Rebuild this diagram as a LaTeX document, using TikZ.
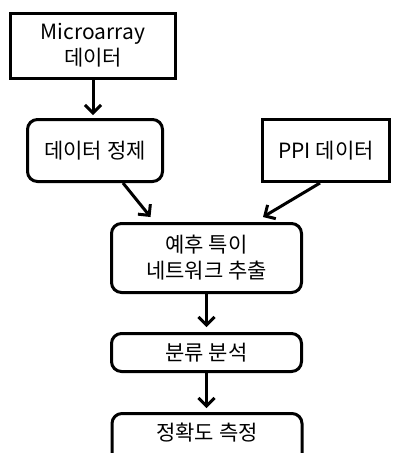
\documentclass[tikz,border=0pt]{standalone}
\usepackage{fontspec}
\setmainfont{Noto Sans CJK KR}
\usetikzlibrary{arrows.meta}
\begin{document}
\begin{tikzpicture}[x=1pt,y=-1pt,
  box/.style={draw=black, line width=3pt, align=center, inner sep=0pt,
    font=\fontsize{21}{26}\selectfont},
  rbox/.style={box, rounded corners=10pt},
  arr/.style={line width=3pt, -{Straight Barb[length=8pt,width=16pt]}}]
\useasboundingbox (0,0) rectangle (392,453);
\node[box, minimum width=165pt, minimum height=65pt] (micro) at (93,45.5) {Microarray\\데이터};
\node[rbox, minimum width=135pt, minimum height=62pt] (clean) at (95,150.5) {데이터 정제};
\node[box, minimum width=127pt, minimum height=62pt] (ppi) at (326,150.5) {PPI 데이터};
\node[rbox, minimum width=190pt, minimum height=69pt] (pred) at (206.5,258) {예후 특이\\네트워크 추출};
\node[rbox, minimum width=190pt, minimum height=38pt] (cls) at (206.5,352.5) {분류 분석};
\node[rbox, minimum width=190pt, minimum height=60pt] (acc) at (207,443.5) {};
\node[font=\fontsize{21}{26}\selectfont] (acct) at (207,433) {정확도 측정};
\draw[arr, shorten >=3pt] (micro.south) -- (micro.south |- clean.north);
\draw[arr] ([xshift=28pt]clean.south) -- ([xshift=-56pt,yshift=5pt]pred.north);
\draw[arr] ([xshift=-6pt]ppi.south) -- ([xshift=56.5pt,yshift=5pt]pred.north);
\draw[arr, shorten >=5pt] (pred.south) -- (cls.north);
\draw[arr, shorten >=4pt] (cls.south) -- (cls.south |- acc.north);
\end{tikzpicture}
\end{document}
